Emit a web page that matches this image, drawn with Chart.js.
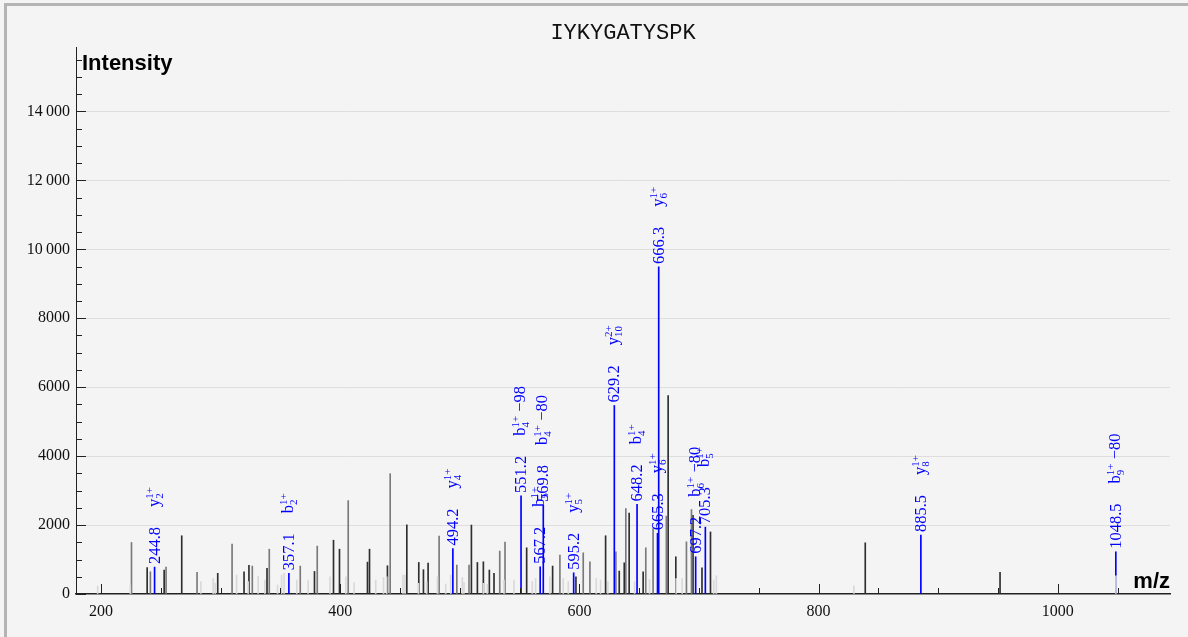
<!DOCTYPE html>
<html>
<head>
<meta charset="utf-8">
<script src="https://cdn.jsdelivr.net/npm/chart.js@4.4.1/dist/chart.umd.min.js"></script>
<style>
  body { margin: 0; background: #f4f4f4; }
  canvas { display: block; }
</style>
</head>
<body>
<canvas id="spectrum" width="1188" height="637" style="width:1188px;height:637px"></canvas>
<script>
// peptide and axis texts
const peptide = 'IYKYGATYSPK';
const yTitle = 'Intensity';
const xTitle = 'm/z';

// tick values
const xTickValues = [200, 400, 600, 800, 1000];
const yTickValues = [0, 2000, 4000, 6000, 8000, 10000, 12000, 14000];

// annotated (matched) peaks
const matchedMz = [244.8, 357.1, 494.2, 551.2, 567.2, 569.8, 595.2, 629.2, 648.2, 665.3, 666.3, 697.2, 705.3, 885.5, 1048.5];
const matchedInt = [780, 600, 1320, 2845, 790, 2580, 615, 5470, 2600, 1760, 9490, 1080, 1940, 1710, 1225];
const ionType = ['y', 'b', 'y', 'b', 'b', 'b', 'y', 'y', 'b', 'y', 'y', 'b', 'b', 'y', 'b'];
const ionIndex = ['2', '2', '4', '4', '5', '4', '5', '10', '4', '6', '6', '6', '5', '8', '9'];
const ionCharge = ['1+', '1+', '1+', '1+', '1+', '1+', '1+', '2+', '1+', '1+', '1+', '1+', '1+', '1+', '1+'];
const ionLoss = ['', '', '', '\u221298', '', '\u221280', '', '', '', '', '', '\u221280', '', '', '\u221280'];

// unmatched peaks, dark grey
const darkMz = [238.6, 252.8, 267.5, 297.6, 319.6, 323.7, 338.8, 378.5, 394.4, 399.4, 422.8, 424.5, 439.5, 455.7, 465.7, 469.6, 473.5, 509.7, 514.7, 519.7, 524.7, 528.6, 555.9, 577.6, 597.1, 621.9, 633.3, 637.5, 641.6, 653.3, 674.2, 680.6, 695.0, 702.5, 709.6, 839.0, 951.7];
const darkInt = [770, 695, 1690, 600, 645, 830, 745, 655, 1560, 1300, 925, 1300, 820, 2005, 915, 705, 895, 2000, 915, 935, 695, 600, 1340, 810, 500, 1690, 665, 905, 2350, 645, 5760, 1080, 2285, 760, 1800, 1485, 630];

// unmatched peaks, mid grey
const midMz = [225.5, 241.3, 254.4, 280.3, 309.6, 326.5, 340.7, 366.6, 380.8, 406.7, 441.8, 482.7, 497.5, 507.7, 533.4, 537.8, 583.7, 603.2, 608.8, 630.5, 638.8, 655.5, 661.6, 672.7, 689.5, 693.7];
const midInt = [1495, 645, 780, 630, 1450, 810, 1300, 810, 1390, 2710, 3490, 1680, 840, 840, 1245, 1505, 1130, 1195, 935, 1225, 2480, 1340, 1900, 2260, 1515, 2450];

// weak peaks, light grey
const lightMz = [197.2, 224.5, 283.5, 293.8, 295.5, 313.4, 323.0, 331.4, 337.0, 347.6, 351.0, 353.1, 363.7, 373.2, 391.5, 404.7, 411.6, 429.7, 436.2, 438.9, 452.5, 454.2, 465.4, 472.3, 481.3, 488.2, 492.4, 502.1, 503.5, 519.7, 523.0, 536.9, 545.3, 560.6, 563.4, 575.3, 586.5, 590.7, 614.1, 617.7, 623.8, 646.1, 658.6, 680.9, 685.9, 712.3, 714.5, 829.5, 1048.6];
const lightInt = [230, 260, 360, 450, 310, 550, 360, 520, 405, 260, 550, 600, 405, 405, 500, 500, 330, 405, 480, 500, 550, 550, 310, 360, 500, 290, 550, 480, 330, 310, 280, 405, 405, 360, 450, 500, 450, 360, 450, 405, 360, 360, 425, 450, 450, 405, 530, 240, 530];

const toPoints = (xs, ys) => xs.map((x, i) => ({ x: x, y: ys[i] }));

function thousands(v) {
  const s = String(v);
  return v >= 10000 ? s.slice(0, -3) + '\u2009' + s.slice(-3) : s;
}

const frame = {
  id: 'frame',
  beforeDraw(chart) {
    const ctx = chart.ctx;
    ctx.save();
    ctx.fillStyle = '#f4f4f4';
    ctx.fillRect(0, 0, chart.width, chart.height);
    ctx.fillStyle = '#b4b4b4';
    ctx.fillRect(4, 3, 3, chart.height - 3);
    ctx.fillRect(4, 3, chart.width - 4, 3);
    ctx.restore();
  },
  afterDatasetsDraw(chart) {
    const { ctx, chartArea: area, scales: { x, y } } = chart;
    ctx.save();
    ctx.strokeStyle = '#222';
    ctx.lineWidth = 1;
    // inner ticks on y
    for (let v = 0; v <= y.max; v += 500) {
      const py = Math.round(y.getPixelForValue(v)) + 0.5;
      const len = v % 2000 === 0 ? 10 : 6;
      ctx.beginPath();
      ctx.moveTo(area.left, py);
      ctx.lineTo(area.left + len, py);
      ctx.stroke();
    }
    // inner ticks on x
    for (let v = 200; v <= x.max; v += 50) {
      const px = Math.round(x.getPixelForValue(v)) + 0.5;
      const len = v % 200 === 0 ? 10 : 6;
      ctx.beginPath();
      ctx.moveTo(px, area.bottom);
      ctx.lineTo(px, area.bottom - len);
      ctx.stroke();
    }

    // peak annotations
    ctx.fillStyle = '#0000ff';
    matchedMz.forEach((mz, i) => {
      const px = x.getPixelForValue(mz);
      const top = y.getPixelForValue(matchedInt[i]);
      ctx.save();
      ctx.translate(px, top - 3);
      ctx.rotate(-Math.PI / 2);
      ctx.textBaseline = 'alphabetic';
      ctx.textAlign = 'left';
      ctx.font = '16.5px "Liberation Serif"';
      const num = mz.toFixed(1);
      ctx.fillText(num, 0, 5);
      let u = ctx.measureText(num).width + 20;
      ctx.fillText(ionType[i], u, 4);
      u += ctx.measureText(ionType[i]).width;
      ctx.font = '11px "Liberation Serif"';
      ctx.fillText(ionCharge[i], u, -2);
      ctx.fillText(ionIndex[i], u, 8);
      u += Math.max(ctx.measureText(ionCharge[i]).width, ctx.measureText(ionIndex[i]).width);
      if (ionLoss[i]) {
        ctx.font = '16.5px "Liberation Serif"';
        ctx.fillText(' ' + ionLoss[i], u, 4);
      }
      ctx.restore();
    });
    ctx.restore();
  },
  afterDraw(chart) {
    const { ctx, chartArea: area } = chart;
    ctx.save();
    ctx.fillStyle = '#111';
    ctx.textAlign = 'center';
    ctx.textBaseline = 'alphabetic';
    ctx.font = '22px "Liberation Mono"';
    ctx.fillText(peptide, (area.left + area.right) / 2, 39);
    ctx.font = 'bold 22px "Liberation Sans"';
    ctx.fillStyle = '#000';
    ctx.textAlign = 'left';
    ctx.fillText(yTitle, area.left + 6, 70);
    ctx.textAlign = 'right';
    ctx.fillText(xTitle, area.right, area.bottom - 6);
    ctx.restore();
  }
};

const bars = (label, data, color) => ({
  type: 'bar',
  label: label,
  data: data,
  backgroundColor: color,
  borderWidth: 0,
  barThickness: 1,
  grouped: false
});

const ctx = document.getElementById('spectrum').getContext('2d');
new Chart(ctx, {
  type: 'bar',
  data: {
    datasets: [
      bars('weak', toPoints(lightMz, lightInt), '#d9d9d9'),
      bars('mid', toPoints(midMz, midInt), '#7a7a7a'),
      bars('dark', toPoints(darkMz, darkInt), '#2e2e2e'),
      bars('matched', toPoints(matchedMz, matchedInt), '#0000ff')
    ]
  },
  options: {
    responsive: false,
    animation: false,
    devicePixelRatio: 1,
    events: [],
    layout: { padding: { top: 47, right: 18, left: 0, bottom: 0 } },
    plugins: {
      legend: { display: false },
      title: { display: false },
      tooltip: { enabled: false }
    },
    scales: {
      x: {
        type: 'linear',
        min: 179.1,
        max: 1093.8,
        offset: false,
        afterFit: s => { s.height = 43; },
        afterBuildTicks: s => { s.ticks = xTickValues.map(v => ({ value: v })); },
        grid: { display: false, drawTicks: false },
        border: { display: true, color: '#222', width: 1.5 },
        ticks: {
          autoSkip: false,
          maxRotation: 0,
          padding: 8,
          color: '#111',
          font: { family: '"Liberation Serif"', size: 16 },
          callback: v => String(v)
        }
      },
      y: {
        min: 0,
        max: 15870,
        afterFit: s => { s.width = 76; },
        afterBuildTicks: s => { s.ticks = yTickValues.map(v => ({ value: v })); },
        grid: {
          drawTicks: false,
          color: c => c.tick && c.tick.value === 0 ? 'rgba(0,0,0,0)' : '#dedede'
        },
        border: { display: true, color: '#222', width: 1 },
        ticks: {
          autoSkip: false,
          padding: 6,
          color: '#111',
          font: { family: '"Liberation Serif"', size: 16 },
          callback: v => thousands(v)
        }
      }
    }
  },
  plugins: [frame]
});
</script>
</body>
</html>
